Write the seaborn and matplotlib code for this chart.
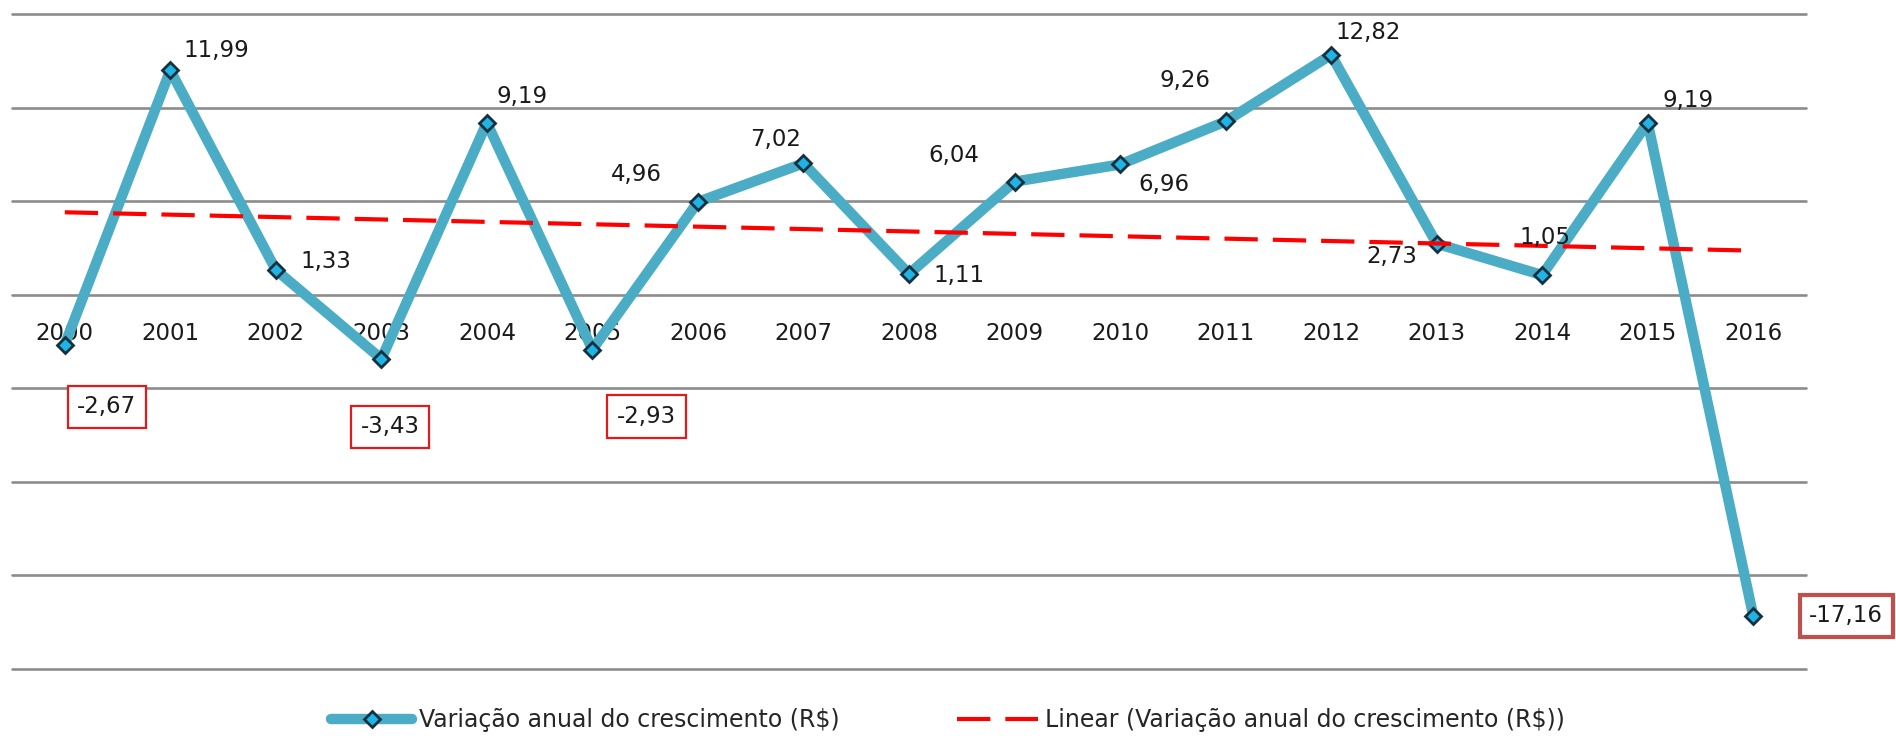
import numpy as np
import pandas as pd
import matplotlib.pyplot as plt
from matplotlib.lines import Line2D
import seaborn as sns

# valores
anos = ['2000', '2001', '2002', '2003', '2004', '2005', '2006', '2007', '2008',
        '2009', '2010', '2011', '2012', '2013', '2014', '2015', '2016']
variacao = [-2.67, 11.99, 1.33, -3.43, 9.19, -2.93, 4.96, 7.02, 1.11,
            6.04, 6.96, 9.26, 12.82, 2.73, 1.05, 9.19, -17.16]
rotulos = ['-2,67', '11,99', '1,33', '-3,43', '9,19', '-2,93', '4,96', '7,02', '1,11',
           '6,04', '6,96', '9,26', '12,82', '2,73', '1,05', '9,19', '-17,16']

nome_serie = 'Variação anual do crescimento (R$)'
nome_trend = 'Linear (Variação anual do crescimento (R$))'

df = pd.DataFrame({'ano': anos, 'variacao': variacao})
df['pos'] = np.arange(len(df))

# posição dos rótulos (deslocamento em pixels a partir do ponto)
offsets = [(42, -62), (46, 20), (50, 8), (9, -68), (35, 26), (54, -67), (-62, 27),
           (-28, 24), (50, -2), (-61, 26), (44, -20), (-41, 41), (37, 22),
           (-45, -13), (3, 38), (40, 22), (93, 0)]

sns.set_style('white')
plt.rcParams['font.family'] = ['DejaVu Sans']

fig = plt.figure(figsize=(18.96, 7.46), dpi=100)
ax = fig.add_axes([12 / 1896, 77 / 746, 1794 / 1896, 655 / 746])

cor_linha = '#4BACC6'

# linha de tendência (regressão linear)
sns.regplot(data=df, x='pos', y='variacao', ax=ax, scatter=False, ci=None,
            truncate=True,
            line_kws={'color': '#FF0000', 'lw': 3, 'dashes': (8, 3.6), 'zorder': 4})

# série principal
sns.lineplot(data=df, x='pos', y='variacao', ax=ax, color=cor_linha, lw=7.5,
             marker='D', markersize=8, markerfacecolor='#1FB4E6',
             markeredgecolor='#15303F', markeredgewidth=2, sort=False, zorder=3)

# rótulos
for i, (v, txt) in enumerate(zip(variacao, rotulos)):
    dx, dy = offsets[i]
    bbox = None
    if v < 0 and v > -10:
        bbox = dict(boxstyle='square,pad=0.42', fc='white', ec='#E31A1C', lw=1.6)
    elif v < -10:
        bbox = dict(boxstyle='square,pad=0.42', fc='white', ec='#C0504D', lw=3)
    ax.annotate(txt, xy=(i, v), xytext=(dx, dy), textcoords='offset pixels',
                ha='center', va='center', fontsize=16.5, color='#1a1a1a',
                bbox=bbox, zorder=5)

# eixos (o eixo das categorias cruza em zero)
for s in ax.spines.values():
    s.set_visible(False)
ax.spines['bottom'].set_position(('data', 0))
ax.set_xlim(-0.5, len(anos) - 0.5)
ax.set_ylim(-20, 15)
ax.set_yticks(range(-20, 16, 5))
ax.set_yticklabels([])
ax.set_xticks(df['pos'])
ax.set_xticklabels(anos)
ax.tick_params(axis='x', length=0, pad=20, labelsize=16.5, labelcolor='#1a1a1a')
ax.tick_params(axis='y', length=0)
ax.grid(axis='y', color='#8C8C8C', lw=1.9)
ax.grid(axis='x', visible=False)
for gl in ax.get_ygridlines():
    gl.set_clip_on(False)
ax.set_xlabel('')
ax.set_ylabel('')

# legenda
handles = [
    Line2D([], [], color=cor_linha, lw=7.5, marker='D', markersize=8,
           markerfacecolor='#1FB4E6', markeredgecolor='#15303F', markeredgewidth=2),
    Line2D([], [], color='#FF0000', lw=3, dashes=(8, 3.6)),
]
fig.legend(handles, [nome_serie, nome_trend], loc='center',
           bbox_to_anchor=(0.5, 1 - 720 / 746), ncol=2, frameon=False,
           fontsize=17, handlelength=3.4, columnspacing=5, handletextpad=0.3)

plt.savefig('out.png', dpi=100)
